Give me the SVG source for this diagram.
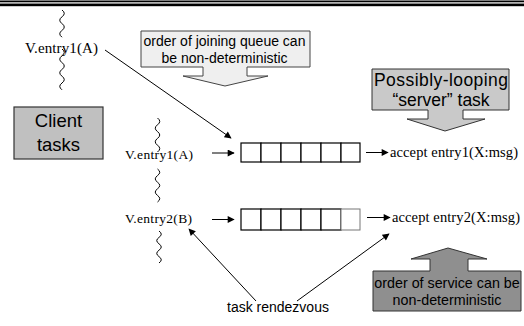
<svg xmlns="http://www.w3.org/2000/svg" width="524" height="326" viewBox="0 0 524 326">
<style>
.serif{font-family:"Liberation Serif","Times New Roman",serif;fill:#000}
.sans{font-family:"Liberation Sans",Arial,sans-serif;fill:#000}
.wave{fill:none;stroke:#000;stroke-width:1}
.conn{fill:none;stroke:#000;stroke-width:1}
.cell{fill:#fff;stroke:#000;stroke-width:1.2}
</style>
<defs>
<marker id="ah" viewBox="0 0 10 10" refX="9" refY="5" markerWidth="8" markerHeight="7" markerUnits="userSpaceOnUse" orient="auto">
<path d="M0,0 L10,5 L0,10 Z" fill="#000"/>
</marker>
</defs>
<rect width="524" height="326" fill="#fff"/>
<g id="topborder">
<rect x="0" y="0" width="524" height="0.8" fill="#888"/>
<rect x="0" y="0.8" width="524" height="1.5" fill="#000"/>
<rect x="0" y="3" width="524" height="0.8" fill="#999"/>
<rect x="0" y="3.8" width="524" height="2.2" fill="#000"/>
<rect x="0" y="6" width="524" height="0.6" fill="#aaa"/>
</g>
<g id="client1">
<path class="wave" d="M62,10 q4.5,3.4 0,6.8 t0,6.8 t0,6.8 t0,6.8"/>
<path class="wave" d="M62,49 q4.5,3.4 0,6.8 t0,6.8 t0,6.8 t0,6.8 t0,6.8 t0,6.8"/>
<text class="serif" x="25" y="52.5" font-size="15" textLength="73">V.entry1(A)</text>
</g>
<g id="client2">
<path class="wave" d="M157.5,118 q4.5,3.4 0,6.8 t0,6.8 t0,6.8 t0,6.8 t0,6.8"/>
<text class="serif" x="125" y="159" font-size="13.5" textLength="68">V.entry1(A)</text>
<path class="wave" d="M157.5,169 q4.5,3.3 0,6.6 t0,6.6 t0,6.6 t0,6.6 t0,6.6"/>
<text class="serif" x="125" y="223" font-size="13.5" textLength="67">V.entry2(B)</text>
<path class="wave" d="M159,231 q4.5,3.2 0,6.4 t0,6.4 t0,6.4 t0,6.4 t0,6.4"/>
</g>
<g id="clientTasks">
<rect x="14" y="107" width="89" height="52" fill="#c0c0c0" stroke="#333" stroke-width="1.2"/>
<text class="sans" x="58.5" y="127" font-size="18.5" text-anchor="middle">Client</text>
<text class="sans" x="58.5" y="151" font-size="18.5" text-anchor="middle">tasks</text>
</g>
<g id="callout-joining">
<path d="M141,31 H310 V67 H247 V76 H268 L225,86 L183,76 H203 V67 H141 Z" fill="#efefef" stroke="#444" stroke-width="1"/>
<text class="sans" x="224.5" y="46" font-size="14" text-anchor="middle">order of joining queue can</text>
<text class="sans" x="224.5" y="63" font-size="14" text-anchor="middle">be non-deterministic</text>
</g>
<g id="server">
<path d="M372,69 H509 V110 H463 V119 H485 L445,131 L407,119 H428 V110 H372 Z" fill="#c9c9c9" stroke="#333" stroke-width="1"/>
<text class="sans" x="441" y="86" font-size="17.5" text-anchor="middle" textLength="134">Possibly-looping</text>
<text class="sans" x="441" y="106" font-size="17.5" text-anchor="middle">“server” task</text>
</g>
<g id="queue1">
<rect class="cell" x="241" y="143" width="20" height="19"/>
<rect class="cell" x="261" y="143" width="20" height="19"/>
<rect class="cell" x="281" y="143" width="20" height="19"/>
<rect class="cell" x="301" y="143" width="20" height="19"/>
<rect class="cell" x="321" y="143" width="20" height="19"/>
<rect class="cell" x="341" y="143" width="19" height="19"/>
</g>
<g id="queue2">
<rect class="cell" x="241" y="209" width="20" height="21"/>
<rect class="cell" x="261" y="209" width="20" height="21"/>
<rect class="cell" x="281" y="209" width="20" height="21"/>
<rect class="cell" x="301" y="209" width="20" height="21"/>
<rect class="cell" x="321" y="209" width="20" height="21"/>
<rect x="341" y="209" width="19" height="21" fill="#fff" stroke="#777" stroke-width="1"/>
</g>
<g id="accept1">
<text class="serif" x="390" y="157" font-size="14.5" textLength="128">accept entry1(X:msg)</text>
</g>
<g id="accept2">
<text class="serif" x="392" y="222" font-size="14.5" textLength="128">accept entry2(X:msg)</text>
</g>
<g id="callout-service">
<path d="M373,271 H430 V259 H411 L448,248 L487,259 H468 V271 H521 V311 H373 Z" fill="#8f8f8f" stroke="#333" stroke-width="1"/>
<text class="sans" x="447" y="288" font-size="14.3" text-anchor="middle">order of service can be</text>
<text class="sans" x="447" y="305" font-size="14.3" text-anchor="middle">non-deterministic</text>
</g>
<g id="rendezvous">
<text class="sans" x="227" y="312" font-size="14">task rendezvous</text>
</g>
<g id="connectors">
<line class="conn" x1="105" y1="50" x2="231" y2="138" marker-end="url(#ah)"/>
<line class="conn" x1="212" y1="153" x2="234" y2="153" marker-end="url(#ah)"/>
<line class="conn" x1="212" y1="219.5" x2="234" y2="219.5" marker-end="url(#ah)"/>
<line class="conn" x1="366" y1="152.5" x2="388" y2="152.5" marker-end="url(#ah)"/>
<line class="conn" x1="367" y1="217.5" x2="390" y2="217.5" marker-end="url(#ah)"/>
<line class="conn" x1="256" y1="301" x2="189" y2="229" marker-end="url(#ah)"/>
<line class="conn" x1="297" y1="301" x2="389" y2="234" marker-end="url(#ah)"/>
</g>
</svg>
